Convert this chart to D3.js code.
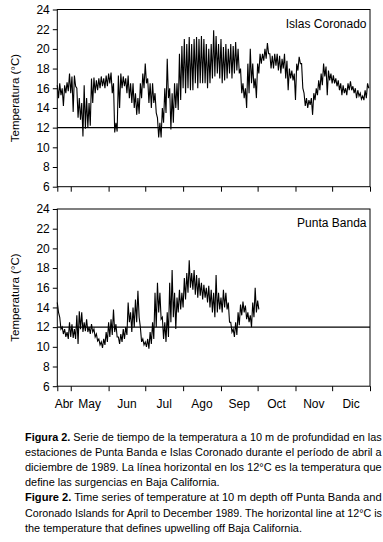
<!DOCTYPE html>
<html>
<head>
<meta charset="utf-8">
<script src="https://cdn.jsdelivr.net/npm/d3@7"></script>
<style>
  body { margin: 0; background: #fff; }
  svg { display: block; font-family: "Liberation Sans", Arial, sans-serif; }
</style>
</head>
<body>
<div id="chart"></div>
<script>
// month labels sit between month boundaries
const monthLabels = ["Abr", "May", "Jun", "Jul", "Ago", "Sep", "Oct", "Nov", "Dic"];
const yTicks = [6, 8, 10, 12, 14, 16, 18, 20, 22, 24];
const upwellingTemp = 12;
const stepDays = 2;

// Islas Coronado, 2-day high / low envelope from 20 Apr 1989
const coronadoHi = [16.3, 16.5, 16.0, 16.3, 16.6, 17.5, 17.2, 17.3, 16.0, 15.0,
  14.5, 16.3, 15.0, 14.5, 17.0, 17.1, 16.8, 17.0, 17.2, 17.0,
  17.3, 17.5, 17.6, 16.5, 12.5, 17.3, 17.5, 17.2, 17.0, 17.3,
  16.5, 16.5, 15.5, 15.0, 16.5, 17.5, 18.5, 17.0, 16.5, 16.5,
  15.5, 13.0, 12.5, 14.0, 16.0, 19.0, 16.0, 15.5, 16.5, 16.5,
  19.5, 20.3, 21.0, 20.5, 21.2, 20.5, 21.0, 21.2, 21.0, 21.3,
  21.0, 20.5, 20.0, 20.5, 21.9, 21.3, 20.5, 21.0, 20.2, 20.5,
  20.0, 20.5, 20.3, 20.7, 20.0, 18.0, 16.5, 16.0, 18.5, 20.0,
  18.5, 17.0, 18.5, 19.5, 19.5, 20.0, 20.6, 19.5, 19.3, 19.5,
  19.5, 19.3, 19.0, 19.5, 18.8, 18.0, 17.8, 17.5, 18.5, 19.2,
  18.5, 15.5, 15.0, 14.8, 15.0, 15.5, 16.0, 16.8, 17.5, 18.5,
  18.2, 17.8, 17.5, 17.3, 17.0, 16.8, 16.5, 16.3, 16.0, 16.5,
  16.7, 16.2, 16.0, 15.8, 15.5, 15.2, 15.8, 16.5];
const coronadoLo = [15.0, 15.3, 14.2, 15.5, 15.7, 15.5, 13.6, 16.2, 13.0, 12.8,
  11.1, 11.9, 12.0, 12.2, 14.5, 15.5, 15.8, 16.0, 16.2, 16.0,
  16.2, 16.5, 15.5, 11.5, 11.6, 14.0, 16.0, 16.2, 15.5, 15.0,
  14.5, 14.0, 13.3, 13.4, 15.0, 16.0, 16.5, 14.5, 14.0, 14.5,
  13.5, 11.0, 11.0, 12.5, 13.5, 15.0, 11.8, 12.5, 14.0, 13.8,
  14.8, 16.0, 15.5, 16.0, 15.8, 15.8, 16.5, 16.0, 16.5, 16.5,
  16.5, 16.0, 16.5, 17.0, 17.2, 17.5, 17.0, 16.5, 16.8, 17.0,
  17.5, 17.0, 17.5, 17.8, 17.5, 15.5, 15.0, 14.0, 15.5, 16.5,
  16.0, 15.0, 17.5, 18.5, 18.8, 19.0, 19.5, 18.0, 18.0, 18.3,
  17.8, 17.5, 18.0, 17.0, 15.8, 17.0, 16.8, 14.8, 17.8, 18.5,
  16.0, 14.2, 14.0, 14.3, 13.3, 14.8, 15.3, 15.8, 16.3, 17.2,
  15.3, 16.8, 16.5, 16.5, 16.2, 15.8, 15.3, 15.5, 15.3, 15.8,
  15.8, 15.5, 15.0, 15.2, 14.9, 14.8, 15.0, 16.0];

// Punta Banda, 2-day high / low envelope from 20 Apr 1989
const bandaHi = [14.5, 13.0, 12.0, 11.8, 11.5, 12.5, 12.3, 11.8, 13.2, 13.6,
  13.5, 12.5, 12.8, 12.0, 12.3, 11.8, 11.3, 10.8, 10.5, 10.8,
  11.5, 12.5, 12.8, 13.8, 12.3, 11.0, 11.3, 11.8, 12.0, 14.5,
  13.5, 14.0, 14.8, 15.7, 12.0, 10.8, 10.5, 10.8, 11.5, 12.5,
  15.5, 16.5, 15.5, 13.0, 12.5, 13.5, 16.5, 17.8, 15.5, 15.0,
  15.8, 15.5, 17.0, 17.5, 18.8, 17.5, 17.8, 17.3, 17.0, 16.5,
  16.3, 16.0, 16.2, 15.8, 15.5, 17.3, 15.5, 15.0, 15.8, 15.5,
  14.5, 12.5, 11.8, 12.5, 13.5, 14.3, 14.6, 14.2, 13.5, 13.2,
  14.5, 16.0, 14.7];
const bandaLo = [13.5, 11.8, 11.3, 11.0, 10.8, 11.0, 10.9, 10.8, 10.3, 11.8,
  11.5, 11.6, 11.5, 11.3, 11.5, 11.0, 10.6, 10.2, 9.9, 10.2,
  10.5, 11.0, 11.2, 11.5, 11.0, 10.3, 10.5, 10.8, 11.2, 12.5,
  11.5, 12.0, 12.5, 13.0, 10.5, 10.2, 10.0, 9.8, 10.3, 10.8,
  12.0, 13.5, 12.8, 10.8, 10.5, 11.0, 12.5, 13.0, 11.8, 13.5,
  13.8, 14.0, 14.8, 15.5, 16.0, 15.8, 15.3, 15.0, 15.2, 14.8,
  15.0, 14.5, 14.0, 13.5, 13.0, 13.5, 13.8, 13.5, 14.0, 13.8,
  12.5, 11.5, 11.0, 11.2, 12.2, 13.2, 13.5, 12.8, 12.5, 12.0,
  13.0, 13.5, 13.8];

const captionLines = [
  { bold: "Figura 2.", text: " Serie de tiempo de la temperatura a 10 m de profundidad en las", justify: true },
  { bold: "", text: "estaciones de Punta Banda e Islas Coronado durante el período de abril a", justify: true },
  { bold: "", text: "diciembre de 1989. La línea horizontal en los 12°C es la temperatura que", justify: true },
  { bold: "", text: "define las surgencias en Baja California.", justify: false },
  { bold: "Figure 2.", text: " Time series of temperature at 10 m depth off Punta Banda and", justify: true },
  { bold: "", text: "Coronado Islands for April to December 1989. The horizontal line at 12°C is", justify: true },
  { bold: "", text: "the temperature that defines upwelling off Baja California.", justify: false }
];

const startDate = new Date(Date.UTC(1989, 3, 20));
const endDate = new Date(Date.UTC(1990, 0, 1));

const width = 383, height = 542;
const svg = d3.select("#chart").append("svg")
  .attr("width", width)
  .attr("height", height);

const x = d3.scaleUtc()
  .domain([startDate, endDate])
  .range([57.3, 370]);

const monthTicks = [startDate].concat(d3.utcMonth.range(new Date(Date.UTC(1989, 4, 1)), d3.utcDay.offset(endDate, 1)));

function toPoints(hi, lo) {
  const pts = [];
  hi.forEach((h, i) => {
    pts.push([d3.utcDay.offset(startDate, stepDays * i), h]);
    pts.push([d3.utcDay.offset(startDate, stepDays * i + 1), lo[i]]);
  });
  return pts;
}

function drawPanel(top, name, hi, lo, showMonths) {
  const panelH = 177.2;
  const y = d3.scaleLinear().domain([6, 24]).range([top + panelH, top]);
  const g = svg.append("g");

  // y axis
  const yAxis = g.append("g")
    .attr("transform", `translate(${x.range()[0]},0)`)
    .call(d3.axisLeft(y).tickValues(yTicks).tickSize(4.5).tickPadding(3).tickFormat(d3.format("d")));
  yAxis.select(".domain").remove();
  yAxis.selectAll("text").attr("font-size", 12).attr("fill", "#000").attr("font-family", "Liberation Sans, Arial, sans-serif");
  yAxis.selectAll("line").attr("stroke", "#000");

  // x axis ticks at month boundaries
  const xAxis = g.append("g")
    .attr("transform", `translate(0,${top + panelH})`)
    .call(d3.axisBottom(x).tickValues(monthTicks).tickSize(5).tickFormat(""));
  xAxis.select(".domain").remove();
  xAxis.selectAll("line").attr("stroke", "#000");

  if (showMonths) {
    g.selectAll(".month")
      .data(monthLabels)
      .enter().append("text")
      .attr("class", "month")
      .attr("x", (d, i) => (x(monthTicks[i]) + x(monthTicks[i + 1])) / 2)
      .attr("y", top + panelH + 21.5)
      .attr("text-anchor", "middle")
      .attr("font-size", 12)
      .text(d => d);
  }

  // frame
  g.append("rect")
    .attr("x", x.range()[0])
    .attr("y", top)
    .attr("width", x.range()[1] - x.range()[0])
    .attr("height", panelH)
    .attr("fill", "none")
    .attr("stroke", "#000")
    .attr("stroke-width", 1);

  // series
  const line = d3.line()
    .x(d => x(d[0]))
    .y(d => y(d[1]));
  g.append("path")
    .datum(toPoints(hi, lo))
    .attr("d", line)
    .attr("fill", "none")
    .attr("stroke", "#000")
    .attr("stroke-width", 1.1)
    .attr("stroke-linejoin", "miter");

  // 12 °C upwelling line
  g.append("line")
    .attr("x1", x.range()[0])
    .attr("x2", x.range()[1])
    .attr("y1", y(upwellingTemp))
    .attr("y2", y(upwellingTemp))
    .attr("stroke", "#000")
    .attr("stroke-width", 1.3);

  // station name
  g.append("text")
    .attr("x", 366.5)
    .attr("y", top + 18)
    .attr("text-anchor", "end")
    .attr("font-size", 12)
    .text(name);

  // y label
  g.append("text")
    .attr("transform", `translate(19,${top + panelH / 2}) rotate(-90)`)
    .attr("text-anchor", "middle")
    .attr("font-size", 11.5)
    .text("Temperatura (°C)");
}

drawPanel(9.5, "Islas Coronado", coronadoHi, coronadoLo, false);
drawPanel(209, "Punta Banda", bandaHi, bandaLo, true);

// caption: narrow look by squeezing each line horizontally to the column width
const capLeft = 25, capWidth = 357, capTop = 441, capStep = 15.1;
const cap = svg.append("g").attr("font-size", 11.5);
const capTexts = cap.selectAll("text")
  .data(captionLines)
  .enter().append("text")
  .attr("x", 0)
  .attr("y", 0);
capTexts.append("tspan").attr("font-weight", "bold").text(d => d.bold);
capTexts.append("tspan").text(d => d.text);

let ratioSum = 0, ratioN = 0;
capTexts.each(function(d) {
  d.natural = this.getComputedTextLength();
  if (d.justify) { ratioSum += capWidth / d.natural; ratioN++; }
});
const ratio = ratioSum / ratioN;
capTexts.attr("transform", (d, i) => {
  const s = d.justify ? capWidth / d.natural : ratio;
  return `translate(${capLeft},${capTop + i * capStep}) scale(${s},1)`;
});
</script>
</body>
</html>
